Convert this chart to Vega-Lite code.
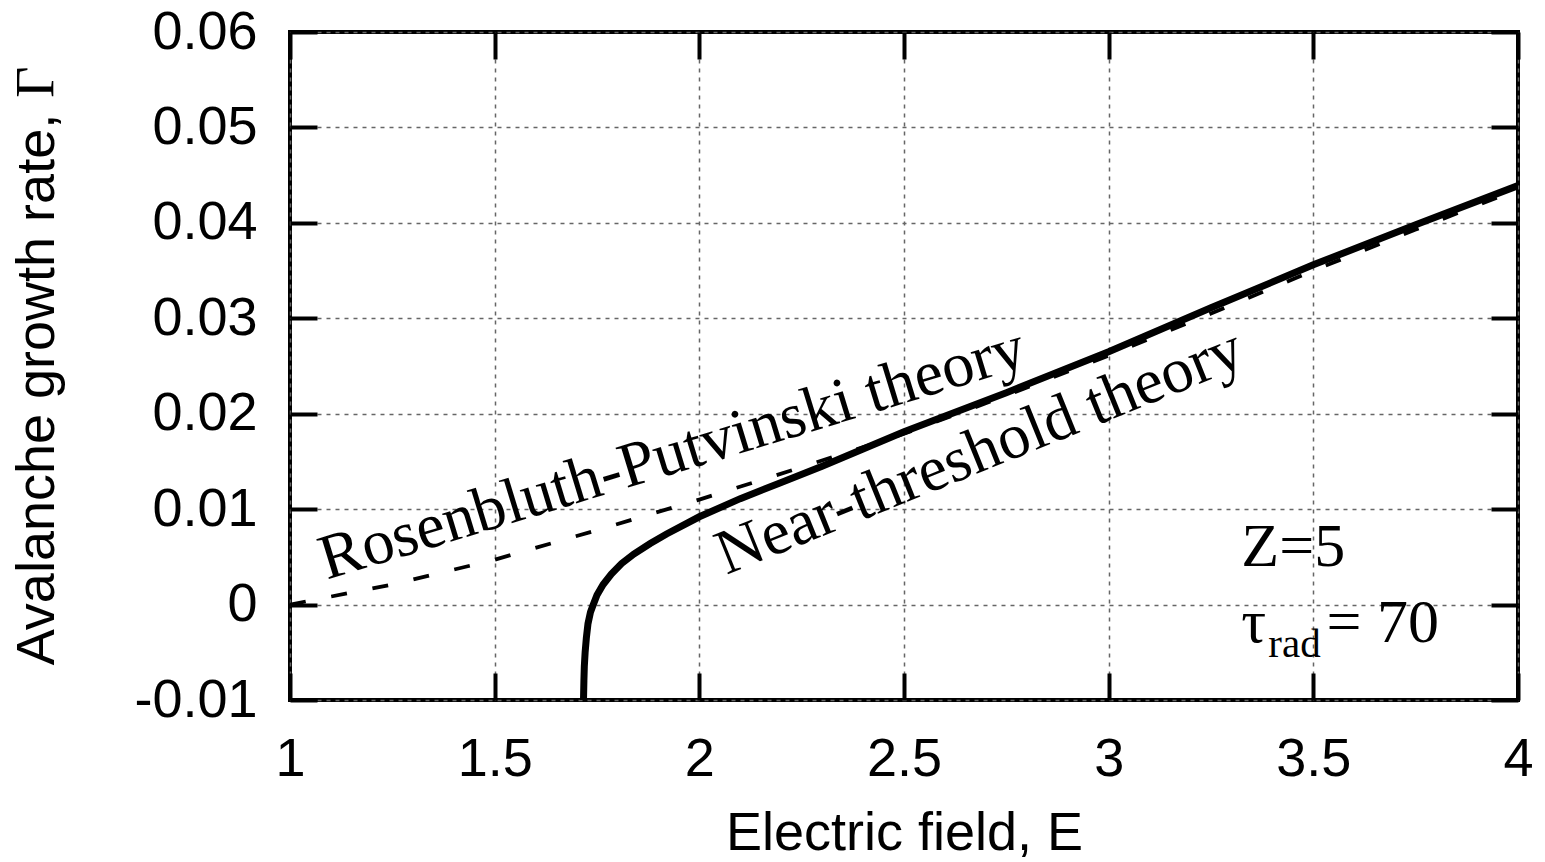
{
  "$schema": "https://vega.github.io/schema/vega-lite/v6.json",
  "autosize": {"type": "none"},
  "padding": {"left": 290, "top": 32, "right": 27, "bottom": 162},
  "width": 1228,
  "height": 668,
  "background": "white",
  "datasets": {
    "rp": [
      {"E": 1.0, "G": 0.0},
      {"E": 1.25, "G": 0.0021},
      {"E": 1.5, "G": 0.0047},
      {"E": 1.75, "G": 0.0078},
      {"E": 2.0, "G": 0.011},
      {"E": 2.25, "G": 0.0144},
      {"E": 2.5, "G": 0.0179},
      {"E": 2.75, "G": 0.0219},
      {"E": 3.0, "G": 0.0261},
      {"E": 3.25, "G": 0.0305},
      {"E": 3.5, "G": 0.035},
      {"E": 3.75, "G": 0.0393},
      {"E": 4.0, "G": 0.0435}
    ],
    "nt": [
      {"E": 1.717, "G": -0.01},
      {"E": 1.718, "G": -0.008},
      {"E": 1.719, "G": -0.0065},
      {"E": 1.721, "G": -0.005},
      {"E": 1.724, "G": -0.0035},
      {"E": 1.728, "G": -0.002},
      {"E": 1.734, "G": -0.0008},
      {"E": 1.741, "G": 0.0},
      {"E": 1.75, "G": 0.001},
      {"E": 1.765, "G": 0.0021},
      {"E": 1.785, "G": 0.0032},
      {"E": 1.81, "G": 0.0043},
      {"E": 1.84, "G": 0.0053},
      {"E": 1.88, "G": 0.0064},
      {"E": 1.92, "G": 0.0074},
      {"E": 1.96, "G": 0.0083},
      {"E": 2.0, "G": 0.0092},
      {"E": 2.1, "G": 0.0111},
      {"E": 2.2, "G": 0.0128},
      {"E": 2.3, "G": 0.0145},
      {"E": 2.4, "G": 0.0163},
      {"E": 2.5, "G": 0.0181},
      {"E": 2.75, "G": 0.0222},
      {"E": 3.0, "G": 0.0265},
      {"E": 3.25, "G": 0.0311},
      {"E": 3.5, "G": 0.0356},
      {"E": 3.75, "G": 0.0398},
      {"E": 4.0, "G": 0.0439}
    ],
    "one": [{}]
  },
  "layer": [
    {
      "data": {"name": "rp"},
      "mark": {"type": "line", "color": "black", "strokeWidth": 3.8, "strokeDash": [16, 26], "clip": true},
      "encoding": {
        "x": {
          "field": "E", "type": "quantitative",
          "scale": {"domain": [1, 4], "nice": false, "zero": false},
          "axis": {
            "orient": "bottom",
            "values": [1, 1.5, 2, 2.5, 3, 3.5, 4],
            "format": "~g",
            "title": "Electric field, E",
            "grid": true,
            "ticks": true,
            "tickSize": -27,
            "labelPadding": 59,
            "titleY": 149,
            "titleBaseline": "alphabetic"
          }
        },
        "y": {
          "field": "G", "type": "quantitative",
          "scale": {"domain": [-0.01, 0.06], "nice": false, "zero": false},
          "axis": {
            "orient": "left",
            "values": [-0.01, 0, 0.01, 0.02, 0.03, 0.04, 0.05, 0.06],
            "labelExpr": "datum.value < 0 ? '-' + format(-datum.value, '.2~f') : format(datum.value, '.2~f')",
            "title": "Avalanche growth rate,",
            "grid": true,
            "ticks": true,
            "tickSize": -27,
            "labelPadding": 60,
            "titleX": -237,
            "titleY": 357,
            "titleBaseline": "alphabetic"
          }
        }
      }
    },
    {
      "data": {"name": "nt"},
      "mark": {"type": "line", "color": "black", "strokeWidth": 7, "clip": true},
      "encoding": {
        "x": {
          "field": "E", "type": "quantitative",
          "scale": {"domain": [1, 4], "nice": false, "zero": false},
          "axis": {"orient": "top", "values": [1, 1.5, 2, 2.5, 3, 3.5, 4], "labels": false, "title": null, "grid": false, "tickSize": -27}
        },
        "y": {
          "field": "G", "type": "quantitative",
          "scale": {"domain": [-0.01, 0.06], "nice": false, "zero": false},
          "axis": {"orient": "right", "values": [-0.01, 0, 0.01, 0.02, 0.03, 0.04, 0.05, 0.06], "labels": false, "title": null, "grid": false, "tickSize": -27}
        }
      }
    },
    {
      "data": {"name": "one"},
      "mark": {"type": "text", "font": "Liberation Serif", "fontSize": 54, "angle": -90, "align": "left", "baseline": "alphabetic", "color": "black", "clip": false},
      "encoding": {
        "x": {"datum": 0.422, "type": "quantitative", "axis": null},
        "y": {"datum": 0.0531, "type": "quantitative", "axis": null},
        "text": {"value": "Γ"}
      }
    },
    {
      "data": {"name": "one"},
      "mark": {"type": "text", "font": "Liberation Serif", "fontSize": 64, "angle": -17, "align": "left", "baseline": "alphabetic", "color": "black"},
      "encoding": {
        "x": {"datum": 1.09, "type": "quantitative", "axis": null},
        "y": {"datum": 0.0026, "type": "quantitative", "axis": null},
        "text": {"value": "Rosenbluth-Putvinski theory"}
      }
    },
    {
      "data": {"name": "one"},
      "mark": {"type": "text", "font": "Liberation Serif", "fontSize": 64, "angle": -22, "align": "left", "baseline": "alphabetic", "color": "black"},
      "encoding": {
        "x": {"datum": 2.066, "type": "quantitative", "axis": null},
        "y": {"datum": 0.0031, "type": "quantitative", "axis": null},
        "text": {"value": "Near-threshold theory"}
      }
    },
    {
      "data": {"name": "one"},
      "mark": {"type": "text", "font": "Liberation Serif", "fontSize": 62, "align": "left", "baseline": "alphabetic", "color": "black"},
      "encoding": {
        "x": {"datum": 3.324, "type": "quantitative", "axis": null},
        "y": {"datum": 0.004, "type": "quantitative", "axis": null},
        "text": {"value": "Z=5"}
      }
    },
    {
      "data": {"name": "one"},
      "mark": {"type": "text", "font": "Liberation Serif", "fontSize": 62, "align": "left", "baseline": "alphabetic", "color": "black"},
      "encoding": {
        "x": {"datum": 3.324, "type": "quantitative", "axis": null},
        "y": {"datum": -0.0039, "type": "quantitative", "axis": null},
        "text": {"value": "τ"}
      }
    },
    {
      "data": {"name": "one"},
      "mark": {"type": "text", "font": "Liberation Serif", "fontSize": 41, "align": "left", "baseline": "alphabetic", "color": "black"},
      "encoding": {
        "x": {"datum": 3.39, "type": "quantitative", "axis": null},
        "y": {"datum": -0.0055, "type": "quantitative", "axis": null},
        "text": {"value": "rad"}
      }
    },
    {
      "data": {"name": "one"},
      "mark": {"type": "text", "font": "Liberation Serif", "fontSize": 62, "align": "left", "baseline": "alphabetic", "color": "black"},
      "encoding": {
        "x": {"datum": 3.532, "type": "quantitative", "axis": null},
        "y": {"datum": -0.0039, "type": "quantitative", "axis": null},
        "text": {"value": "= 70"}
      }
    }
  ],
  "resolve": {"axis": {"x": "independent", "y": "independent"}},
  "config": {
    "font": "Liberation Sans",
    "view": {"stroke": "black", "strokeWidth": 4},
    "axis": {
      "domain": false,
      "labelFont": "Liberation Sans",
      "labelFontSize": 54,
      "labelColor": "black",
      "titleFont": "Liberation Sans",
      "titleFontSize": 54,
      "titleFontWeight": "normal",
      "titleColor": "black",
      "tickColor": "black",
      "tickWidth": 4,
      "gridColor": "#666666",
      "gridDash": [4, 5],
      "gridWidth": 1.5,
      "gridOpacity": 1,
      "labelOverlap": false,
      "labelFlush": false,
      "labelBound": false
    }
  }
}
